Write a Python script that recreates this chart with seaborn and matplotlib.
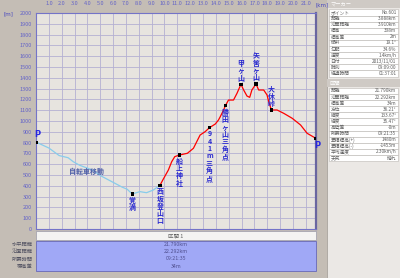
import numpy as np
import pandas as pd
import matplotlib
matplotlib.use("Agg")
import matplotlib.pyplot as plt
from matplotlib.patches import Rectangle
import seaborn as sns

# ---------------- data ----------------
bike_km = [0.0, 1.0, 1.8, 2.5, 2.9, 3.4, 4.4, 5.0, 6.0, 6.7, 7.1, 7.48, 8.09, 8.6, 9.13, 9.65]
bike_m = [805, 750, 680, 660, 623, 590, 546, 495, 432, 388, 368, 324, 346, 336, 361, 405]

hike_km = [9.65, 9.87, 10.3, 10.56, 10.8, 11.16, 11.78, 12.25, 12.77, 13.16, 13.5, 13.95,
           14.2, 14.34, 14.6, 14.73, 14.98, 15.37, 15.64, 15.95, 16.16, 16.42, 16.63, 16.8,
           17.12, 17.33, 17.72, 17.98, 18.11, 18.32, 18.76, 19.28, 19.94, 20.59, 21.1, 21.79]
hike_m = [405, 454, 546, 623, 670, 685, 701, 747, 870, 901, 938, 972,
          1009, 1040, 1102, 1140, 1194, 1194, 1256, 1340, 1287, 1231, 1219, 1287,
          1343, 1287, 1287, 1241, 1179, 1102, 1102, 1071, 1025, 963, 886, 839]

wp_names = ["P", "覚満", "西坂登山口", "船上神社", "941m三角点", "勝田ヶ山三角点",
            "甲ヶ山", "矢筈ヶ山", "大休峠", "P"]
wp_km = [0.0, 7.48, 9.65, 11.16, 13.5, 14.73, 15.95, 17.12, 18.32, 21.79]
wp_m = [805, 324, 405, 685, 938, 1140, 1340, 1343, 1102, 839]
wp_above = [True, False, False, False, False, False, True, True, True, False]

x_ticks = list(range(0, 22))
x_tick_labels = [""] + [f"{k}.0" for k in range(1, 22)]
y_ticks = list(range(0, 2001, 100))

bike_label = "自転車移動"

sum_labels = ["水平距離", "沿面距離", "所要時間", "標高差"]
sum_values = ["21.790km", "22.292km", "09:21:35", "34m"]
section_title = "区間 1"

marker_labels = ["ポイント", "距離", "沿面距離", "標高", "標高差", "傾斜", "勾配",
                 "速度", "日付", "時刻", "経過時間"]
marker_values = ["No.601", "3.888km", "3.910km", "338m", "2m", "19.1°", "34.6%",
                 "1.4km/h", "2013/11/01", "09:09:00", "01:37:01"]
section_labels = ["距離", "沿面距離", "標高差", "方位", "緯度", "経度", "高低差",
                  "所要時間", "累積標高(+)", "累積標高(-)", "平均速度", "天気"]
section_values = ["21.790km", "22.292km", "34m", "36.21°", "133.67°", "35.47°", "-0m",
                  "09:21:35", "1480m", "-1453m", "2.30km/h", "晴れ"]

# ---------------- figure ----------------
sns.set_style("white")
plt.rcParams['font.family'] = ['Noto Sans CJK JP', 'DejaVu Sans']

fig = plt.figure(figsize=(4, 2.78), dpi=100)
fig.patch.set_facecolor('#c4bdb5')

ov = fig.add_axes([0, 0, 1, 1])
ov.set_xlim(0, 400)
ov.set_ylim(278, 0)
ov.axis('off')
ov.set_zorder(0)

ax = fig.add_axes([36 / 400, 49 / 278, 280 / 400, 216 / 278])
ax.set_zorder(1)
ax.set_facecolor('#e7e4df')

sns.lineplot(x=bike_km, y=bike_m, ax=ax, color='#88cceb', lw=0.9, sort=False)
sns.lineplot(x=hike_km, y=hike_m, ax=ax, color='#ff0000', lw=0.9, sort=False)
sns.scatterplot(x=wp_km, y=wp_m, ax=ax, marker='s', s=5, color='black',
                edgecolor='none', zorder=5)

ax.set_xlim(0, 21.79)
ax.set_ylim(0, 2000)
ax.set_xticks(x_ticks)
ax.set_xticklabels(x_tick_labels)
ax.set_yticks(y_ticks)
ax.set_yticklabels([str(v) for v in y_ticks])
ax.xaxis.tick_top()
ax.tick_params(axis='x', length=0, pad=5, labelsize=4, labelcolor='#6464c8')
ax.tick_params(axis='y', length=0, pad=3, labelsize=4, labelcolor='#6464c8')
ax.set_xlabel('')
ax.set_ylabel('')
ax.grid(True, color='#b4b0d2', lw=0.6)
ax.set_axisbelow(True)
for s in ['left', 'top', 'bottom']:
    ax.spines[s].set_color('#7474c8')
    ax.spines[s].set_linewidth(0.8)
ax.spines['right'].set_color('#6a66a0')
ax.spines['right'].set_linewidth(1.6)

# waypoint labels
for name, k, m, above in zip(wp_names, wp_km, wp_m, wp_above):
    if name == "P":
        ax.annotate(name, (k, m), xytext=(1, 2 if above else -2), textcoords='offset points',
                    ha='center', va='bottom' if above else 'top', fontsize=6,
                    color='#2828e0', fontweight='bold', family=['DejaVu Sans'],
                    annotation_clip=False, zorder=6)
        continue
    txt = "\n".join(list(name))
    ax.annotate(txt, (k, m), xytext=(0, 2 if above else -2), textcoords='offset points',
                ha='center', va='bottom' if above else 'top', multialignment='center',
                fontsize=5.0, linespacing=1.05, color='#2a2ad0', fontweight='bold',
                annotation_clip=False, zorder=6)

ax.text(3.9, 537, bike_label, fontsize=5, color='#5060a8', fontweight='bold',
        ha='center', va='center', zorder=6)

# axis unit labels
ov.text(8, 14, "[m]", fontsize=4, color='#4848c0', ha='center', va='center',
        family=['DejaVu Sans'])
ov.text(322, 5, "[km]", fontsize=4, color='#4848c0', ha='center', va='center',
        family=['DejaVu Sans'])

# bottom summary
ov.add_patch(Rectangle((36, 231), 280, 9, fc='#f4f3f2', ec='#9a9aa8', lw=0.5))
ov.text(176, 235.5, section_title, fontsize=4, color='#606060', ha='center', va='center')
ov.add_patch(Rectangle((36, 240.5), 280, 30.5, fc='#a0a8f6', ec='#6868b8', lw=0.6))
for i, (lab, val) in enumerate(zip(sum_labels, sum_values)):
    y = 244 + 7.5 * i
    ov.text(32.5, y, lab, fontsize=3.8, color='#505060', ha='right', va='center')
    ov.text(176, y, val, fontsize=3.8, color='#505090', ha='center', va='center')

# right panel
ov.add_patch(Rectangle((327, 0), 73, 278, fc='#ebe8e5', ec='#a09a94', lw=0.5))
ov.add_patch(Rectangle((327, 0), 73, 8, fc='#cfcac5', ec='none'))
ov.text(330, 4, "マーカー", fontsize=3.8, color='#ffffff', ha='left', va='center')
for i, (lab, val) in enumerate(zip(marker_labels, marker_values)):
    y = 12.5 + 6.1 * i
    ov.add_patch(Rectangle((328.5, y - 3.05), 69.5, 6.1, fc='white', ec='#bab6b2', lw=0.4))
    ov.text(330.5, y, lab, fontsize=3.4, color='#606060', ha='left', va='center')
    ov.text(396.5, y, val, fontsize=3.4, color='#606060', ha='right', va='center')
ov.add_patch(Rectangle((327, 79), 73, 8, fc='#cfcac5', ec='none'))
ov.text(330, 83, "区間", fontsize=3.8, color='#ffffff', ha='left', va='center')
for i, (lab, val) in enumerate(zip(section_labels, section_values)):
    y = 91 + 6.1 * i
    ov.add_patch(Rectangle((328.5, y - 3.05), 69.5, 6.1, fc='white', ec='#bab6b2', lw=0.4))
    ov.text(330.5, y, lab, fontsize=3.4, color='#606060', ha='left', va='center')
    ov.text(396.5, y, val, fontsize=3.4, color='#606060', ha='right', va='center')

fig.savefig("out.png", dpi=100, facecolor=fig.get_facecolor())
